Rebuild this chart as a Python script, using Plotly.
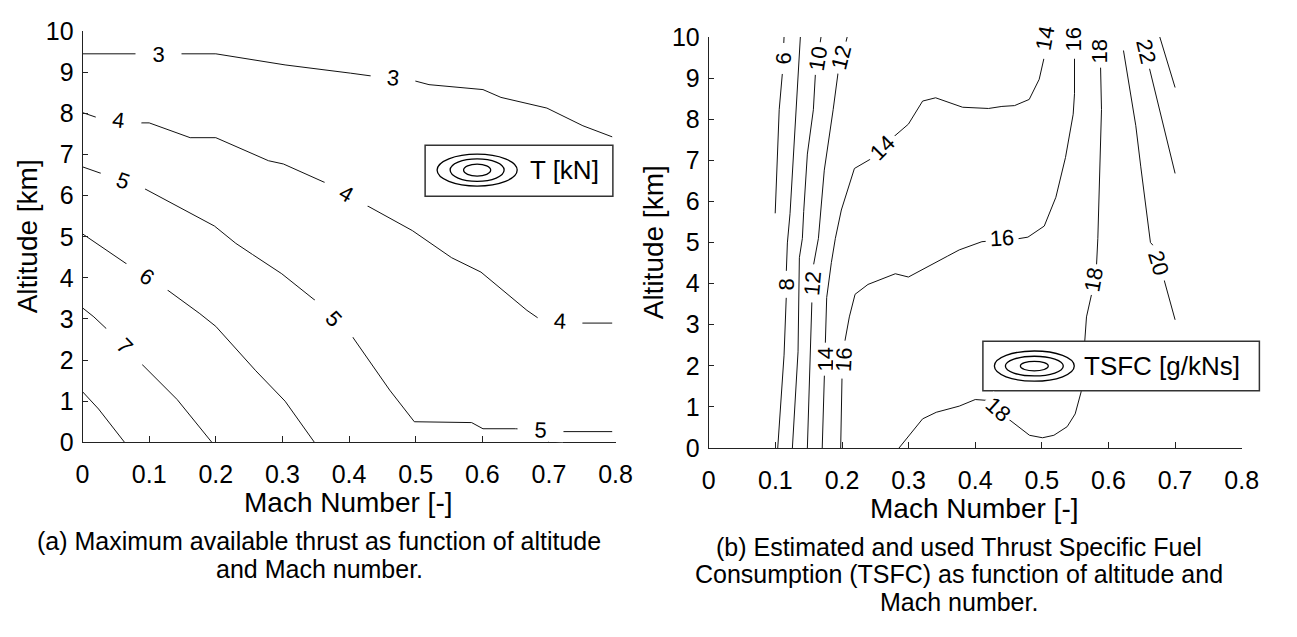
import plotly.graph_objects as go

# ---------------- data: thrust contours (Mach, altitude km) ----------------
T_LEVELS = [3, 4, 5, 6, 7, 8]
T3_M = [0, 0.08, 0.147, 0.2, 0.304, 0.373, 0.402, 0.434, 0.499, 0.52, 0.601, 0.628, 0.697, 0.751, 0.795]
T3_H = [9.45, 9.45, 9.45, 9.45, 9.18, 9.05, 8.98, 8.91, 8.79, 8.70, 8.58, 8.39, 8.13, 7.70, 7.43]
T4_M = [0, 0.0216, 0.087, 0.1, 0.1615, 0.2, 0.279, 0.3015, 0.365, 0.427, 0.495, 0.554, 0.598, 0.667, 0.684, 0.748, 0.795]
T4_H = [8.02, 7.90, 7.77, 7.77, 7.41, 7.41, 6.85, 6.77, 6.31, 5.75, 5.15, 4.49, 4.14, 3.21, 3.02, 2.90, 2.90]
T5_M = [0, 0.029, 0.093, 0.198, 0.230, 0.255, 0.299, 0.35, 0.405, 0.461, 0.498, 0.584, 0.601, 0.65, 0.716, 0.795]
T5_H = [6.70, 6.54, 6.17, 5.26, 4.84, 4.57, 4.10, 3.44, 2.57, 1.27, 0.50, 0.48, 0.33, 0.33, 0.26, 0.26]
T6_M = [0, 0.058, 0.067, 0.127, 0.176, 0.2, 0.26, 0.304, 0.348]
T6_H = [5.07, 4.41, 4.33, 3.71, 3.13, 2.82, 1.74, 1.00, 0.0]
T7_M = [0, 0.017, 0.036, 0.088, 0.142, 0.194]
T7_H = [3.27, 3.05, 2.76, 1.91, 1.04, 0.0]
T8_M = [0, 0.024, 0.063]
T8_H = [1.23, 0.81, 0.0]

T_LABEL_TEXT = ["3", "3", "4", "4", "4", "5", "5", "5", "6", "7"]
T_LABEL_M = [0.1137, 0.4667, 0.054, 0.396, 0.716, 0.061, 0.3776, 0.688, 0.0972, 0.063]
T_LABEL_H = [9.45, 8.85, 7.83, 6.03, 2.96, 6.36, 3.01, 0.29, 4.02, 2.35]

# ---------------- data: TSFC contours (Mach, altitude km) ----------------
S6_M = [0.113, 0.1105, 0.1057, 0.0997]
S6_H = [10, 9.12, 8.23, 5.71]
S8_M = [0.1375, 0.135, 0.129, 0.122, 0.118, 0.1164, 0.1164, 0.113, 0.1035]
S8_H = [10, 9.32, 7.77, 5.71, 4.99, 4.28, 3.70, 2.26, 0]
S10_M = [0.1685, 0.16, 0.157, 0.148, 0.1425, 0.1405, 0.136, 0.134, 0.1255]
S10_H = [10, 9.09, 8.23, 7.15, 5.75, 5.1, 4.63, 2.34, 0]
S12_M = [0.2078, 0.194, 0.1867, 0.1734, 0.1646, 0.157, 0.1548, 0.148]
S12_H = [10, 9.12, 8.23, 6.76, 5.1, 4.43, 3.58, 0]
S14_M = [0.1703, 0.174, 0.1754, 0.177, 0.184, 0.19, 0.199, 0.2186, 0.243, 0.2775, 0.2997, 0.321,
         0.3405, 0.361, 0.381, 0.42, 0.44, 0.459, 0.481, 0.496, 0.503, 0.505]
S14_H = [0, 1.80, 2.53, 3.66, 4.51, 5.1, 5.79, 6.80, 7.03, 7.57, 7.88, 8.44,
         8.52, 8.40, 8.29, 8.26, 8.31, 8.33, 8.48, 8.97, 9.47, 10]
S16_M = [0.198, 0.2, 0.204, 0.211, 0.2196, 0.239, 0.28, 0.2997, 0.3586, 0.376, 0.41, 0.464,
         0.479, 0.5036, 0.521, 0.5355, 0.547, 0.549, 0.549, 0.549]
S16_H = [0, 1.72, 2.57, 3.19, 3.74, 3.98, 4.24, 4.16, 4.67, 4.82, 5.02, 5.09,
         5.13, 5.40, 6.10, 7.07, 8.12, 8.62, 9.51, 10]
S18_M = [0.2855, 0.321, 0.3415, 0.361, 0.376, 0.40, 0.4175, 0.4495, 0.4815, 0.501, 0.518, 0.538,
         0.550, 0.559, 0.564, 0.567, 0.575, 0.582, 0.584, 0.587, 0.5895, 0.588, 0.587]
S18_H = [0, 0.71, 0.87, 0.96, 1.02, 1.18, 1.16, 0.71, 0.31, 0.25, 0.31, 0.52,
         0.83, 1.37, 2.65, 3.19, 3.77, 4.43, 5.1, 6.68, 8.23, 9.36, 10]
S20_M = [0.6225, 0.641, 0.6485, 0.656, 0.663, 0.6686, 0.683, 0.70]
S20_H = [9.67, 7.84, 6.84, 5.91, 5.0, 4.90, 4.12, 3.12]
S22_M = [0.650, 0.661, 0.70]
S22_H = [10, 9.28, 6.68]
S24_M = [0.677, 0.70]
S24_H = [10, 8.77]

S_LABEL_TEXT = ["6", "10", "12", "14", "16", "18", "22", "8", "12", "14", "16",
                "14", "16", "18", "18", "20"]
S_LABEL_M = [0.1125, 0.1637, 0.199, 0.504, 0.548, 0.587, 0.656, 0.1164, 0.156, 0.175, 0.2022,
             0.2604, 0.44, 0.4336, 0.5785, 0.6755]
S_LABEL_H = [9.47, 9.47, 9.51, 9.96, 9.94, 9.65, 9.65, 3.99, 4.01, 2.17, 2.15,
             7.30, 5.10, 0.94, 4.10, 4.51]

X_TICKS = [0, 0.1, 0.2, 0.3, 0.4, 0.5, 0.6, 0.7, 0.8]
X_TICK_TEXT = ["0", "0.1", "0.2", "0.3", "0.4", "0.5", "0.6", "0.7", "0.8"]
Y_TICKS = list(range(0, 11))

# ---------------- styling ----------------
W, H = 1297, 637
FONT = "Liberation Sans, Arial, Helvetica, sans-serif"
T_LABEL_ANGLE = [0, 6, 7, 30, 3, 20, 47, 2, 33, 46]
T_LABEL_GAP = [45, 44, 45, 48, 44, 46, 52, 45, 48, 50]
S_LABEL_ANGLE = [-90, -81, -76, -80, -90, -90, 77, -90, -85, -90, -87, -45, -3, 42, -80, 73]
S_LABEL_GAP = [30, 32, 32, 40, 38, 32, 34, 26, 37, 32, 37, 33, 32, 30, 30, 36]


def px(x):
    return x / W


def py(y):
    return 1 - y / H


fig = go.Figure()
line_style = dict(color="#111111", width=1)
for m, h in [(T3_M, T3_H), (T4_M, T4_H), (T5_M, T5_H), (T6_M, T6_H), (T7_M, T7_H), (T8_M, T8_H)]:
    fig.add_trace(go.Scatter(x=m, y=h, mode="lines", line=line_style, xaxis="x", yaxis="y",
                             showlegend=False, hoverinfo="skip"))
for m, h in [(S6_M, S6_H), (S8_M, S8_H), (S10_M, S10_H), (S12_M, S12_H), (S14_M, S14_H),
             (S16_M, S16_H), (S18_M, S18_H), (S20_M, S20_H), (S22_M, S22_H), (S24_M, S24_H)]:
    fig.add_trace(go.Scatter(x=m, y=h, mode="lines", line=line_style, xaxis="x2", yaxis="y2",
                             showlegend=False, hoverinfo="skip"))

annotations = []
for t, m, h, a, g in zip(T_LABEL_TEXT, T_LABEL_M, T_LABEL_H, T_LABEL_ANGLE, T_LABEL_GAP):
    annotations.append(dict(x=m, y=h, xref="x", yref="y", text=t, showarrow=False, textangle=a,
                            font=dict(family=FONT, size=22, color="black"), bgcolor="white",
                            width=g, height=22, borderpad=0))
for t, m, h, a, g in zip(S_LABEL_TEXT, S_LABEL_M, S_LABEL_H, S_LABEL_ANGLE, S_LABEL_GAP):
    annotations.append(dict(x=m, y=h, xref="x2", yref="y2", text=t, showarrow=False, textangle=a,
                            font=dict(family=FONT, size=22, color="black"), bgcolor="white",
                            width=g, height=20, borderpad=0))


def text_ann(x, y, text, size, angle=0, xanchor="center"):
    return dict(x=px(x), y=py(y), xref="paper", yref="paper", text=text, showarrow=False,
                textangle=angle, xanchor=xanchor, yanchor="middle",
                font=dict(family=FONT, size=size, color="black"))


annotations += [
    text_ann(21, 233, "Altitude [km]", 28, -90),
    text_ann(659, 239, "Altitude [km]", 28, -90),
    text_ann(348, 511, "Mach Number [-]", 28),
    text_ann(986, 517, "Mach Number [-]", 28),
    text_ann(318, 551, "(a) Maximum available thrust as function of altitude", 25),
    text_ann(318, 580, "and Mach number.", 25),
    text_ann(970, 557, "(b) Estimated and used Thrust Specific Fuel", 25),
    text_ann(970, 586, "Consumption (TSFC) as function of altitude and", 25),
    text_ann(970, 615, "Mach number.", 25),
    text_ann(531, 163.5, "T [kN]", 26, xanchor="left"),
    text_ann(1095, 368.5, "TSFC [g/kNs]", 26, xanchor="left"),
]

shapes = []


def box(x0, y0, x1, y1):
    return dict(type="rect", xref="paper", yref="paper", x0=px(x0), x1=px(x1), y0=py(y1), y1=py(y0),
                line=dict(color="#333333", width=1.5), fillcolor="white", layer="above")


def ell(cx, cy, rx, ry):
    return dict(type="circle", xref="paper", yref="paper", x0=px(cx - rx), x1=px(cx + rx),
                y0=py(cy + ry), y1=py(cy - ry), line=dict(color="black", width=1.3), layer="above")


shapes.append(box(426, 137.3, 617.3, 190.7))
for rx, ry in [(40.8, 16.7), (27.5, 11.7), (13.8, 6.2)]:
    shapes.append(ell(479, 163.3, rx, ry))
shapes.append(box(994.3, 342.3, 1276, 394))
for rx, ry in [(40.7, 15.8), (29.5, 10.3), (14.2, 5.0)]:
    shapes.append(ell(1046.7, 368.3, rx, ry))

axis_common = dict(showgrid=False, zeroline=False, showline=True, linecolor="#222222", linewidth=1,
                   ticks="inside", tickcolor="#222222", tickwidth=1,
                   tickfont=dict(family=FONT, size=25, color="black"))
xcommon = dict(axis_common, range=[0, 0.8], tickvals=X_TICKS, ticktext=X_TICK_TEXT, ticklen=6,
               ticklabelstandoff=10)
ycommon = dict(axis_common, range=[0, 10], tickvals=Y_TICKS, ticklen=5, ticklabelstandoff=3)

fig.update_layout(
    width=W, height=H, autosize=False,
    margin=dict(l=0, r=0, t=0, b=0),
    paper_bgcolor="white", plot_bgcolor="white",
    showlegend=False,
    xaxis=dict(xcommon, domain=[px(77), px(620)], anchor="y"),
    yaxis=dict(ycommon, domain=[py(448), py(18)], anchor="x"),
    xaxis2=dict(xcommon, domain=[px(715), px(1258)], anchor="y2"),
    yaxis2=dict(ycommon, domain=[py(454), py(24)], anchor="x2"),
    annotations=annotations,
    shapes=shapes,
)

fig.write_html("out.html")
